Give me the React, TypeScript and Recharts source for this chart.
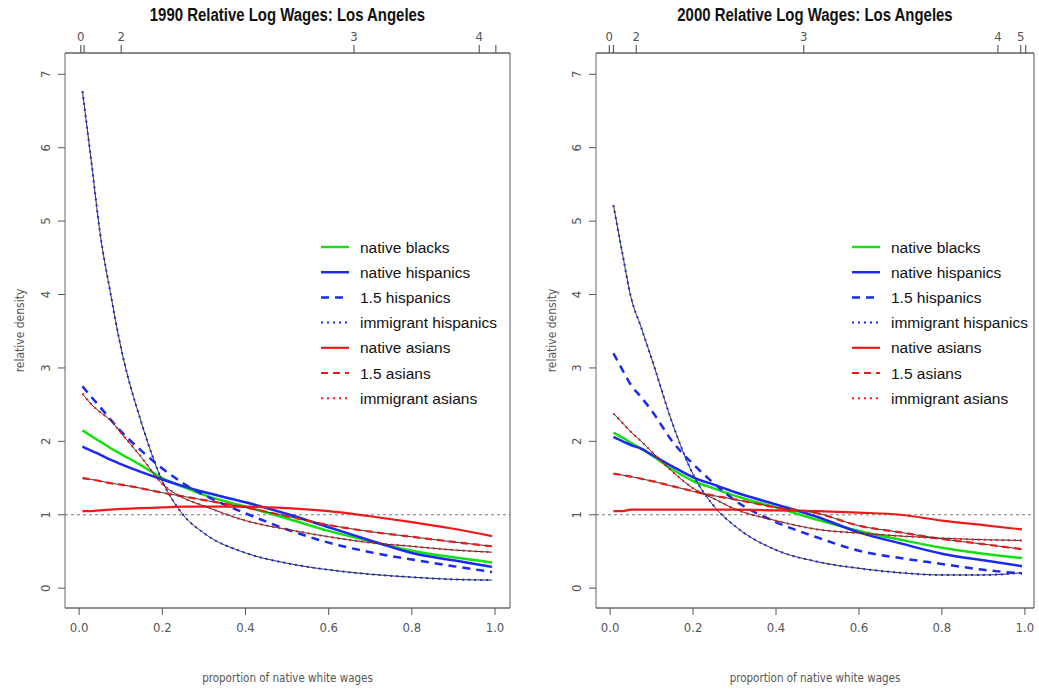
import React from 'react';
import { ComposedChart, Line, XAxis, YAxis, ReferenceLine, Legend } from 'recharts';

// proportion of native white wages (x positions of the estimated curves)
const X_GRID = [0.008, 0.03, 0.05, 0.075, 0.1, 0.15, 0.2, 0.25, 0.3, 0.4, 0.5, 0.6, 0.7, 0.8, 0.9, 0.993];

// 1990 relative densities
const NB_1990 = [2.15, 2.07, 2.0, 1.91, 1.83, 1.67, 1.5, 1.38, 1.27, 1.11, 0.95, 0.78, 0.64, 0.51, 0.42, 0.35];
const NH_1990 = [1.93, 1.87, 1.82, 1.75, 1.69, 1.58, 1.48, 1.39, 1.31, 1.17, 1.01, 0.83, 0.65, 0.48, 0.38, 0.29];
const H15_1990 = [2.75, 2.6, 2.47, 2.3, 2.14, 1.87, 1.63, 1.43, 1.27, 1.02, 0.8, 0.62, 0.49, 0.39, 0.3, 0.22];
const IH_1990 = [6.77, 5.78, 4.85, 4.03, 3.29, 2.25, 1.46, 1.0, 0.75, 0.48, 0.34, 0.25, 0.19, 0.15, 0.12, 0.11];
const NA_1990 = [1.05, 1.05, 1.06, 1.07, 1.08, 1.09, 1.1, 1.11, 1.11, 1.11, 1.09, 1.05, 0.98, 0.9, 0.81, 0.71];
const A15_1990 = [1.5, 1.48, 1.46, 1.43, 1.41, 1.36, 1.3, 1.25, 1.2, 1.1, 0.98, 0.86, 0.77, 0.7, 0.63, 0.57];
const IA_1990 = [2.65, 2.5, 2.4, 2.29, 2.12, 1.78, 1.42, 1.23, 1.12, 0.92, 0.8, 0.7, 0.62, 0.57, 0.52, 0.49];

// 2000 relative densities
const NB_2000 = [2.12, 2.05, 1.98, 1.9, 1.81, 1.62, 1.46, 1.36, 1.26, 1.1, 0.93, 0.78, 0.66, 0.55, 0.47, 0.41];
const NH_2000 = [2.06, 2.0, 1.95, 1.9, 1.82, 1.66, 1.51, 1.41, 1.31, 1.14, 0.97, 0.76, 0.61, 0.47, 0.38, 0.3];
const H15_2000 = [3.2, 2.97, 2.77, 2.6, 2.42, 2.0, 1.69, 1.43, 1.2, 0.9, 0.69, 0.51, 0.41, 0.33, 0.25, 0.2];
const IH_2000 = [5.22, 4.55, 3.97, 3.55, 3.13, 2.25, 1.55, 1.12, 0.85, 0.52, 0.36, 0.27, 0.21, 0.18, 0.18, 0.21];
const NA_2000 = [1.05, 1.05, 1.07, 1.07, 1.07, 1.07, 1.07, 1.07, 1.07, 1.06, 1.05, 1.03, 1.0, 0.92, 0.86, 0.8];
const A15_2000 = [1.56, 1.54, 1.52, 1.49, 1.46, 1.39, 1.32, 1.26, 1.21, 1.1, 1.02, 0.85, 0.76, 0.67, 0.6, 0.53];
const IA_2000 = [2.38, 2.25, 2.13, 2.0, 1.86, 1.59, 1.36, 1.22, 1.08, 0.92, 0.8, 0.75, 0.71, 0.68, 0.66, 0.65];

// axis ticks
const X_TICKS = [0, 0.2, 0.4, 0.6, 0.8, 1.0];
const Y_TICKS = [0, 1, 2, 3, 4, 5, 6, 7];
const TOP_TICKS_1990 = [0.004, 0.012, 0.101, 0.661, 0.962, 1.002];
const TOP_LABELS_1990 = ['0', '', '2', '3', '4', ''];
const TOP_TICKS_2000 = [-0.002, 0.008, 0.063, 0.467, 0.935, 0.99, 1.002];
const TOP_LABELS_2000 = ['0', '', '2', '3', '4', '5', ''];

const GREEN = '#12e012';
const BLUE = '#1a2af2';
const RED = '#f01818';

const NARROW = "'Liberation Sans Narrow', 'DejaVu Sans Condensed', 'Liberation Sans', Arial, sans-serif";
const SANS = "'Liberation Sans', Arial, sans-serif";

type S = { key: string; name: string; color: string; width: number; dash?: string; under?: boolean };
const SERIES: S[] = [
  { key: 'nb', name: 'native blacks', color: GREEN, width: 2.5 },
  { key: 'nh', name: 'native hispanics', color: BLUE, width: 2.5 },
  { key: 'h15', name: '1.5 hispanics', color: BLUE, width: 2.5, dash: '8 6' },
  { key: 'ih', name: 'immigrant hispanics', color: BLUE, width: 2, dash: '2 4', under: true },
  { key: 'na', name: 'native asians', color: RED, width: 2.2 },
  { key: 'a15', name: '1.5 asians', color: RED, width: 2.2, dash: '7 5', under: true },
  { key: 'ia', name: 'immigrant asians', color: RED, width: 2, dash: '2 4', under: true },
];

function build(nb: number[], nh: number[], h15: number[], ih: number[], na: number[], a15: number[], ia: number[]) {
  return X_GRID.map((x, i) => ({ x, nb: nb[i], nh: nh[i], h15: h15[i], ih: ih[i], na: na[i], a15: a15[i], ia: ia[i] }));
}

const DATA_1990 = build(NB_1990, NH_1990, H15_1990, IH_1990, NA_1990, A15_1990, IA_1990);
const DATA_2000 = build(NB_2000, NH_2000, H15_2000, IH_2000, NA_2000, A15_2000, IA_2000);

const YTick = (props: any) => {
  const { x, y, payload } = props;
  return (
    <text x={x} y={y} transform={`rotate(-90 ${x} ${y})`} textAnchor="middle" fill="#555" fontSize={13} fontFamily={NARROW}>
      {payload.value}
    </text>
  );
};

const renderLegend = () => (
  <svg width={210} height={180} style={{ display: 'block' }}>
    {SERIES.map((s, i) => {
      const y = 11 + i * 25.2;
      return (
        <g key={s.key}>
          <line x1={2} x2={30} y1={y} y2={y} stroke={s.color} strokeWidth={s.width} strokeDasharray={s.dash} />
          <text x={41} y={y} dy="0.36em" fontSize={15.5} fill="#111" fontFamily={SANS}>
            {s.name}
          </text>
        </g>
      );
    })}
  </svg>
);

type PanelProps = {
  title: string;
  data: any[];
  topTicks: number[];
  topLabels: string[];
  left: number;
  width: number;
  marginLeft: number;
  marginRight: number;
  legendLeft: number;
  labelOffset: number;
  xDomain: [number, number];
};

const Panel = ({ title, data, topTicks, topLabels, left, width, marginLeft, marginRight, legendLeft, labelOffset, xDomain }: PanelProps) => {
  const plotLeft = marginLeft + 55;
  const plotWidth = width - plotLeft - marginRight - 1;
  return (
    <div style={{ position: 'absolute', left, top: 0, width, height: 694 }}>
      <div
        style={{
          position: 'absolute',
          left: plotLeft,
          width: plotWidth,
          top: 4,
          textAlign: 'center',
          fontFamily: SANS,
          fontWeight: 'bold',
          fontSize: 18,
          color: '#111',
          lineHeight: '22px',
          transform: 'scaleX(0.83)',
          transformOrigin: 'center',
          whiteSpace: 'nowrap',
        }}
      >
        {title}
      </div>
      <ComposedChart width={width} height={694} data={data} margin={{ top: 23, right: marginRight, bottom: 6, left: marginLeft }}>
        <XAxis
          dataKey="x"
          type="number"
          domain={xDomain}
          allowDataOverflow
          ticks={X_TICKS}
          interval={0}
          tickFormatter={(v: number) => v.toFixed(1)}
          height={80}
          tickSize={7}
          tickMargin={8}
          stroke="#222"
          tick={{ fill: '#555', fontSize: 13, fontFamily: NARROW }}
          tickLine={{ stroke: '#555' }}
          label={{ value: 'proportion of native white wages', position: 'insideBottom', offset: 6, fill: '#555', fontSize: 11.5, fontFamily: NARROW }}
        />
        <XAxis
          xAxisId="top"
          orientation="top"
          dataKey="x"
          type="number"
          domain={xDomain}
          allowDataOverflow
          ticks={topTicks}
          interval={0}
          tickFormatter={(v: number) => topLabels[topTicks.indexOf(v)] ?? ''}
          height={30}
          tickSize={8}
          tickMargin={4}
          stroke="#111"
          tick={{ fill: '#555', fontSize: 13, fontFamily: NARROW }}
          tickLine={{ stroke: '#444' }}
        />
        <YAxis
          type="number"
          domain={[-0.27, 7.29]}
          allowDataOverflow
          ticks={Y_TICKS}
          interval={0}
          width={55}
          tickSize={7}
          tickMargin={8}
          stroke="#666"
          tick={<YTick />}
          tickLine={{ stroke: '#555' }}
          label={{ value: 'relative density', angle: -90, position: 'insideLeft', offset: labelOffset, fill: '#555', fontSize: 12, fontFamily: NARROW, style: { textAnchor: 'middle' } }}
        />
        <YAxis yAxisId="r" orientation="right" type="number" domain={[-0.27, 7.29]} width={1} tick={false} tickLine={false} stroke="#555" />
        <ReferenceLine y={1} stroke="#777" strokeDasharray="3 3" strokeWidth={1} />
        {SERIES.flatMap((s) => {
          const out: any[] = [];
          if (s.under) {
            out.push(
              <Line key={s.key + '-u'} dataKey={s.key} type="monotone" stroke="#333" strokeWidth={1} dot={false} isAnimationActive={false} legendType="none" activeDot={false} />
            );
          }
          out.push(
            <Line
              key={s.key}
              dataKey={s.key}
              name={s.name}
              type="monotone"
              stroke={s.color}
              strokeWidth={s.width}
              strokeDasharray={s.dash}
              dot={false}
              activeDot={false}
              isAnimationActive={false}
            />
          );
          return out;
        })}
        <Legend
          content={renderLegend}
          layout="vertical"
          align="center"
          verticalAlign="middle"
          wrapperStyle={{ left: legendLeft, top: 236, width: 210, height: 180 }}
        />
      </ComposedChart>
    </div>
  );
};

export default function App() {
  return (
    <div style={{ position: 'absolute', left: 0, top: 0, width: 1039, height: 694, background: '#fff', overflow: 'hidden' }}>
      <Panel
        title="1990 Relative Log Wages: Los Angeles"
        data={DATA_1990}
        topTicks={TOP_TICKS_1990}
        topLabels={TOP_LABELS_1990}
        left={0}
        width={520}
        marginLeft={10}
        marginRight={9}
        legendLeft={319}
        labelOffset={10}
        xDomain={[-0.034, 1.036]}
      />
      <Panel
        title="2000 Relative Log Wages: Los Angeles"
        data={DATA_2000}
        topTicks={TOP_TICKS_2000}
        topLabels={TOP_LABELS_2000}
        left={520}
        width={515}
        marginLeft={21}
        marginRight={0}
        legendLeft={330}
        labelOffset={11}
        xDomain={[-0.034, 1.022]}
      />
    </div>
  );
}
